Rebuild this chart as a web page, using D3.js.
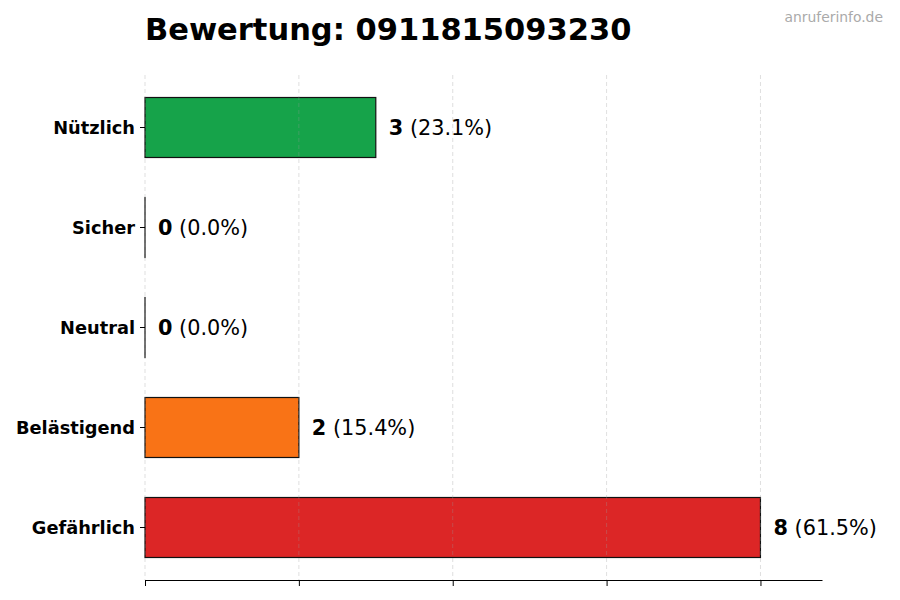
<!DOCTYPE html>
<html>
<head>
<meta charset="utf-8">
<script src="https://cdn.jsdelivr.net/npm/d3@7"></script>
<style>
  body { margin: 0; background: #fff; }
  text { font-family: 'DejaVu Sans', sans-serif; }
</style>
</head>
<body>
<div id="chart"></div>
<script>
const categories = ['Nützlich', 'Sicher', 'Neutral', 'Belästigend', 'Gefährlich']
const counts = [3, 0, 0, 2, 8]
const percents = ['23.1%', '0.0%', '0.0%', '15.4%', '61.5%']
const colors = ['#16a34a', '#16a34a', '#6b7280', '#f97316', '#dc2626']
const xTicks = [0, 2, 4, 6, 8]

const margin = { top: 75, right: 78, bottom: 20, left: 145 }
const width = 900 - margin.left - margin.right
const height = 600 - margin.top - margin.bottom

const svg = d3
  .select('#chart')
  .append('svg')
  .attr('width', 900)
  .attr('height', 600)

const g = svg
  .append('g')
  .attr('transform', 'translate(' + margin.left + ',' + margin.top + ')')

const xPositionScale = d3.scaleLinear().domain([0, 8.8]).range([0, width])

const yPositionScale = d3
  .scaleBand()
  .domain(categories)
  .range([0, height])
  .paddingInner(0.4)
  .paddingOuter(0.225)

const rows = categories.map((c, i) => ({
  name: c,
  count: counts[i],
  pct: percents[i],
  color: colors[i]
}))

g.selectAll('.bar')
  .data(rows)
  .enter()
  .append('rect')
  .attr('class', 'bar')
  .attr('x', xPositionScale(0))
  .attr('y', d => yPositionScale(d.name))
  // zero bars still show their edge, like the original
  .attr('width', d => Math.max(xPositionScale(d.count) - xPositionScale(0), 0.01))
  .attr('height', yPositionScale.bandwidth())
  .attr('fill', d => d.color)
  .attr('stroke', '#111')
  .attr('stroke-width', 1.2)

// dashed grid, above the bars
g.selectAll('.grid')
  .data(xTicks)
  .enter()
  .append('line')
  .attr('class', 'grid')
  .attr('x1', d => xPositionScale(d))
  .attr('x2', d => xPositionScale(d))
  .attr('y1', 0)
  .attr('y2', height)
  .attr('stroke', '#999999')
  .attr('stroke-opacity', 0.4)
  .attr('stroke-width', 0.8)
  .attr('stroke-dasharray', '4 3')

const labels = g
  .selectAll('.value')
  .data(rows)
  .enter()
  .append('text')
  .attr('class', 'value')
  .attr('x', d => xPositionScale(d.count) + 13)
  .attr('y', d => yPositionScale(d.name) + yPositionScale.bandwidth() / 2)
  .attr('dy', '0.35em')
  .attr('font-size', 20.8)
  .attr('fill', '#000')

labels.append('tspan').attr('font-weight', 'bold').text(d => d.count)
labels.append('tspan').text(d => ' (' + d.pct + ')')

// y axis, ticks only
const yAxis = d3.axisLeft(yPositionScale).tickSize(5).tickPadding(5)
g.append('g')
  .attr('class', 'axis y-axis')
  .call(yAxis)
  .call(s => s.select('.domain').remove())
  .call(s =>
    s
      .selectAll('text')
      .attr('font-size', 17.8)
      .attr('font-weight', 'bold')
      .attr('fill', '#000')
      .attr('dy', '0.36em')
      .style('font-family', "'DejaVu Sans', sans-serif")
  )

// x axis, no labels
const xAxis = d3
  .axisBottom(xPositionScale)
  .tickValues(xTicks)
  .tickSize(6)
  .tickSizeOuter(0)
  .tickFormat('')
g.append('g')
  .attr('class', 'axis x-axis')
  .attr('transform', 'translate(0,' + height + ')')
  .call(xAxis)
  .call(s => s.select('.domain').attr('stroke', '#000'))

svg
  .append('text')
  .attr('x', 145)
  .attr('y', 40)
  .attr('font-size', 30.5)
  .attr('font-weight', 'bold')
  .attr('fill', '#000')
  .text('Bewertung: 0911815093230')

svg
  .append('text')
  .attr('x', 883)
  .attr('y', 22)
  .attr('text-anchor', 'end')
  .attr('font-size', 13.9)
  .attr('fill', '#aaaaaa')
  .text('anruferinfo.de')
</script>
</body>
</html>
